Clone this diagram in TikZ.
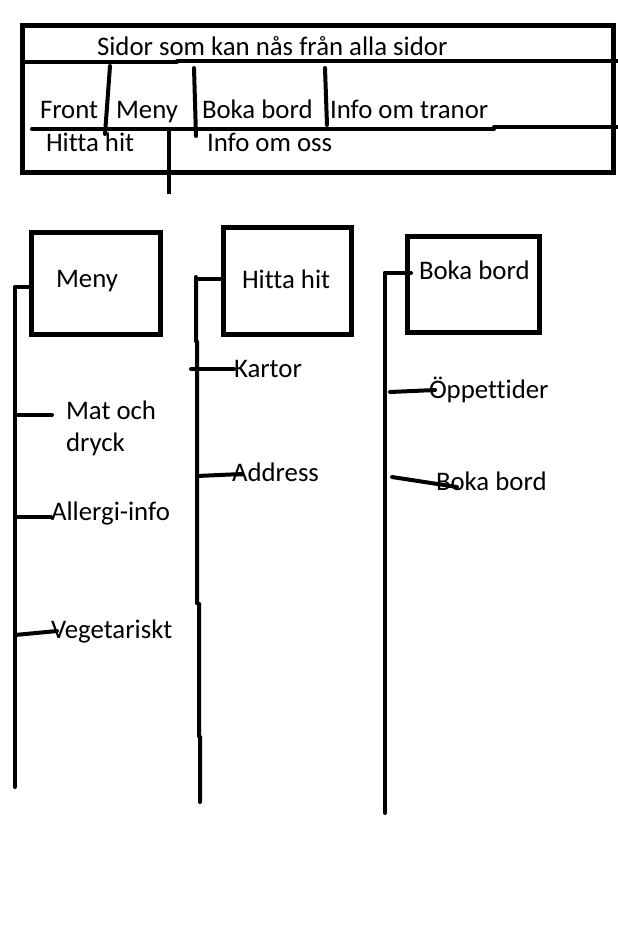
\documentclass[tikz,border=0pt]{standalone}
\usepackage{fontspec}
\setmainfont{Carlito}[Ligatures={NoCommon}]
\begin{document}
\begin{tikzpicture}[
    x=1pt,
    y=-1pt,
    line cap=round,
    every node/.style={font=\fontsize{26.8}{32}\selectfont, inner sep=0pt, outer sep=0pt},
    txt/.style={anchor=base west},
    frame/.style={line width=5pt},
    stroke/.style={line width=4pt},
    pagebox/.style={draw, line width=5pt, anchor=north west}
  ]
  \useasboundingbox (0,0) rectangle (618,940);

  % --- 1. ramen med sidor som nås överallt ---
  \draw[frame] (22,25) rectangle (613,172);
  \draw[stroke] (22,62) -- (177,62) (177,61) -- (618,61);
  \draw[stroke] (32,129) -- (494,129) (494,127) -- (618,127);
  \draw[stroke] (110,66) -- (105,134);
  \draw[stroke] (194,68) -- (196,136);
  \draw[stroke] (325,68) -- (327,125);
  \draw[stroke, line cap=butt] (169,131) -- (169,194);

  \node[txt] (alla) at (97,55) {Sidor som kan nås från alla sidor};
  \node[txt] (front) at (40,118) {Front};
  \node[txt] (menylink) at (116,118) {Meny};
  \node[txt] (bokalink) at (202,118) {Boka bord};
  \node[txt] (tranor) at (330,118) {Info om tranor};
  \node[txt] (hittalink) at (46,151) {Hitta hit};
  \node[txt] (omoss) at (207,151) {Info om oss};

  % --- 2. Meny ---
  \node[pagebox, minimum width=129pt, minimum height=102pt] (menybox) at (31,232) {};
  \node[txt] (meny) at (56,287) {Meny};
  \coordinate (menytop) at (15,287);
  \coordinate (menybot) at (15,787);
  \draw[stroke] (menytop) -- (menybot);
  \draw[stroke] (menytop) -- (menybox.west |- menytop);

  \node[txt, align=left] (matdryck) at (66,451) {Mat och\\dryck};
  \node[txt] (allergi) at (51,520) {Allergi-info};
  \node[txt] (vego) at (51,638) {Vegetariskt};
  \draw[stroke] (15,415) -- (52,415);
  \draw[stroke] (15,517) -- (allergi.west |- 0,517);
  \draw[stroke] (15,635) -- (57,631);

  % --- 3. Hitta hit ---
  \node[pagebox, minimum width=128pt, minimum height=107pt] (hittabox) at (223,227) {};
  \node[txt] (hitta) at (242,288) {Hitta hit};
  \coordinate (hittatop) at (196,277);
  \draw[stroke] (hittatop) -- (196,341) -- (197,342) -- (197,603)
    -- (199,604) -- (199,736) -- (200,737) -- (200,802);
  \draw[stroke] (196,279) -- (hittabox.west |- 0,279);

  \node[txt] (kartor) at (234,377) {Kartor};
  \node[txt] (adress) at (232,481) {Address};
  \draw[stroke] (191,369) -- (kartor.west |- 0,369);
  \draw[stroke] (197,476) -- (242,474);

  % --- 4. Boka bord ---
  \node[pagebox, minimum width=132pt, minimum height=96pt] (bokabox) at (407,236) {};
  \node[txt] (boka) at (419,279) {Boka bord};
  \coordinate (bokatop) at (385,273);
  \coordinate (bokabot) at (385,813);
  \draw[stroke] (bokatop) -- (bokabot);
  \draw[stroke] (bokatop) -- (411,273);

  \node[txt] (oppet) at (429,398) {Öppettider};
  \node[txt] (bokning) at (436,490) {Boka bord};
  \draw[stroke] (390,392) -- (435,390);
  \draw[stroke] (392,477) -- (457,487);

\end{tikzpicture}
\end{document}
